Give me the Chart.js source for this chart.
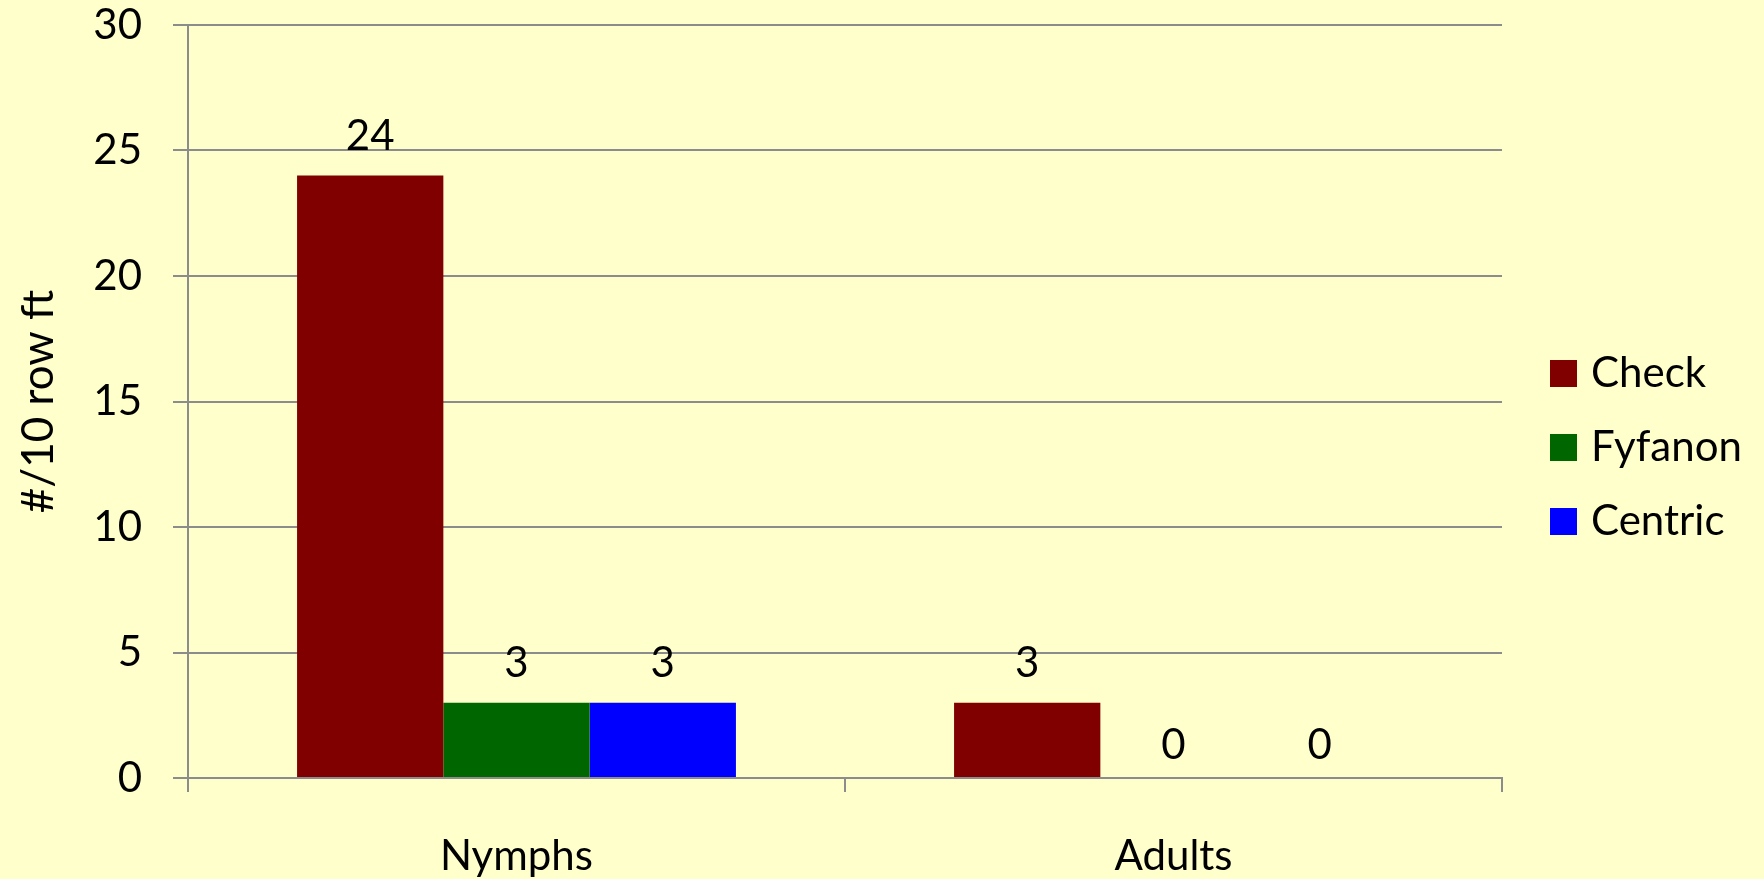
<!DOCTYPE html>
<html>
<head>
<meta charset="utf-8">
<script src="https://cdn.jsdelivr.net/npm/chart.js@4/dist/chart.umd.min.js"></script>
<style>
  html, body { margin: 0; padding: 0; background: #FFFFCC; }
  canvas { display: block; }
</style>
</head>
<body>
<canvas id="c" width="1764" height="879"></canvas>
<script>
const categories = ["Nymphs", "Adults"];
const seriesNames = ["Check", "Fyfanon", "Centric"];
const checkValues = [24, 3];
const fyfanonValues = [3, 0];
const centricValues = [3, 0];
const seriesColors = ["#800000", "#006600", "#0000FF"];
const yTitle = "#/10 row ft";
const yMin = 0, yMax = 30, yStep = 5;

const FONT = "Lato, 'Open Sans', sans-serif";
const FS = 42;
const GRID = "#8c8c8c";

const bgPlugin = {
  id: "bg",
  beforeDraw(chart) {
    const ctx = chart.ctx;
    ctx.save();
    ctx.fillStyle = "#FFFFCC";
    ctx.fillRect(0, 0, chart.width, chart.height);
    ctx.restore();
  }
};

const labelPlugin = {
  id: "valueLabels",
  afterDatasetsDraw(chart) {
    const ctx = chart.ctx;
    ctx.save();
    ctx.font = FS + "px " + FONT;
    ctx.fillStyle = "#000";
    ctx.textAlign = "center";
    ctx.textBaseline = "middle";
    chart.data.datasets.forEach((ds, i) => {
      const meta = chart.getDatasetMeta(i);
      meta.data.forEach((bar, j) => {
        const v = ds.data[j];
        const off = v === 0 ? 33 : 39;
        ctx.fillText(String(v), bar.x, bar.y - off);
      });
    });
    ctx.restore();
  }
};

const legendPlugin = {
  id: "customLegend",
  afterDraw(chart) {
    const ctx = chart.ctx;
    ctx.save();
    ctx.font = FS + "px " + FONT;
    ctx.textAlign = "left";
    ctx.textBaseline = "middle";
    const boxX = 1550, box = 27, startY = 360, gap = 74;
    chart.data.datasets.forEach((ds, i) => {
      const y = startY + i * gap;
      ctx.fillStyle = ds.backgroundColor;
      ctx.fillRect(boxX, y, box, box);
      ctx.fillStyle = "#000";
      ctx.fillText(ds.label, boxX + box + 14, y + box / 2);
    });
    ctx.restore();
  }
};

const valueSets = [checkValues, fyfanonValues, centricValues];

new Chart(document.getElementById("c"), {
  type: "bar",
  data: {
    labels: categories,
    datasets: seriesNames.map((name, i) => ({
      label: name,
      data: valueSets[i],
      backgroundColor: seriesColors[i],
      borderWidth: 0,
      categoryPercentage: 0.668,
      barPercentage: 1.0
    }))
  },
  options: {
    responsive: false,
    animation: false,
    devicePixelRatio: 1,
    layout: { padding: { left: 0, right: 262, top: 25, bottom: 0 } },
    plugins: {
      legend: { display: false },
      tooltip: { enabled: false },
      title: { display: false }
    },
    scales: {
      x: {
        offset: true,
        grid: {
          display: true,
          offset: true,
          drawOnChartArea: false,
          drawTicks: true,
          tickLength: 14,
          color: GRID,
          lineWidth: 2
        },
        border: { display: true, color: GRID, width: 2 },
        ticks: {
          color: "#000",
          font: { family: FONT, size: FS },
          padding: 39,
          maxRotation: 0
        },
        afterFit(scale) {
          scale.height = 101;
          scale.paddingLeft = 0; scale.paddingRight = 0;
        }
      },
      y: {
        min: yMin,
        max: yMax,
        ticks: {
          stepSize: yStep,
          color: "#000",
          font: { family: FONT, size: FS },
          padding: 31
        },
        grid: {
          color: GRID,
          lineWidth: 2,
          drawTicks: true,
          tickLength: 15
        },
        border: { display: true, color: GRID, width: 2 },
        title: {
          display: true,
          text: yTitle,
          color: "#000",
          font: { family: FONT, size: 44 },
          padding: { top: 12, bottom: 0 }
        },
        afterFit(scale) {
          scale.width = 188;
          scale.paddingTop = 0; scale.paddingBottom = 0;
        }
      }
    }
  },
  plugins: [bgPlugin, labelPlugin, legendPlugin]
});
</script>
</body>
</html>
